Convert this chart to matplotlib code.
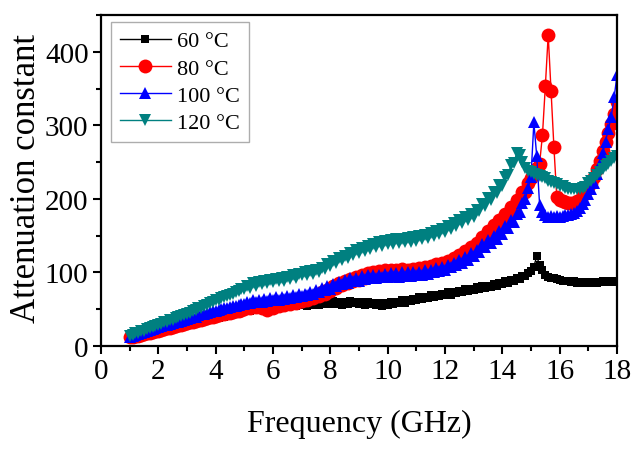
import numpy as np
import matplotlib
matplotlib.use("Agg")
import matplotlib.pyplot as plt
from matplotlib.ticker import MultipleLocator

plt.rcParams['font.family'] = ['Liberation Serif', 'DejaVu Serif']

# Frequency grid (GHz), 0.1 GHz step from 1 to 18
freq = np.round(np.arange(1.0, 18.001, 0.1), 2)

labels = ['60 °C', '80 °C', '100 °C', '120 °C']

att_60 = [10, 11, 12, 13, 14, 15, 16, 17, 18, 19,
          20, 20, 21, 22, 23, 24, 25, 26, 27, 28,
          29, 29, 30, 31, 32, 33, 34, 35, 36, 37,
          38, 38, 39, 40, 41, 42, 43, 44, 45, 46,
          47, 47, 48, 49, 50, 51, 52, 52, 53, 53,
          53, 56, 54, 57, 55, 58, 54, 58, 55, 59,
          56, 59, 55, 59, 56, 60, 56, 59, 57, 60,
          57, 61, 57, 60, 56, 60, 57, 61, 58, 60,
          57, 60, 56, 60, 57, 59, 56, 59, 55, 59,
          56, 60, 57, 60, 58, 62, 59, 63, 61, 64,
          62, 66, 64, 67, 65, 69, 66, 70, 68, 71,
          69, 73, 70, 74, 72, 75, 73, 77, 75, 78,
          76, 80, 77, 81, 79, 82, 80, 84, 82, 86,
          84, 88, 86, 90, 88, 92, 91, 95, 95, 99,
          102, 108, 122, 110, 104, 96, 94, 93, 92, 91,
          90, 89, 88, 88, 87, 88, 86, 87, 86, 87,
          87, 86, 87, 86, 87, 88, 87, 88, 88, 87,
          89]

att_80 = [12, 12, 13, 14, 15, 16, 17, 18, 19, 20,
          21, 22, 23, 24, 25, 26, 27, 28, 29, 30,
          31, 32, 33, 34, 35, 36, 37, 38, 39, 40,
          41, 42, 43, 44, 45, 45, 46, 47, 48, 49,
          50, 53, 52, 55, 53, 56, 52, 54, 49, 53,
          52, 56, 54, 58, 56, 60, 57, 62, 59, 63,
          61, 65, 62, 67, 65, 70, 68, 73, 71, 76,
          75, 81, 79, 85, 83, 89, 85, 91, 88, 94,
          90, 96, 93, 99, 95, 100, 96, 102, 97, 103,
          98, 104, 99, 103, 98, 105, 100, 104, 99, 105,
          100, 106, 101, 107, 103, 109, 105, 111, 107, 113,
          109, 116, 113, 120, 116, 124, 120, 129, 125, 134,
          130, 140, 137, 148, 145, 156, 153, 164, 161, 171,
          170, 180, 178, 189, 188, 198, 198, 209, 210, 222,
          228, 236, 242, 248, 287, 353, 423, 346, 270, 202,
          199, 197, 196, 194, 194, 195, 197, 199, 205, 210,
          216, 222, 230, 240, 252, 265, 278, 290, 302, 316,
          332]

att_100 = [12, 13, 15, 16, 17, 19, 20, 22, 23, 25,
           26, 27, 28, 29, 30, 31, 32, 33, 34, 35,
           37, 38, 39, 40, 42, 43, 44, 45, 46, 47,
           48, 49, 50, 51, 52, 53, 54, 55, 56, 57,
           57, 60, 59, 62, 60, 63, 60, 64, 61, 65,
           62, 66, 63, 67, 64, 68, 65, 69, 66, 71,
           68, 71, 69, 73, 71, 76, 73, 79, 76, 82,
           78, 84, 81, 87, 84, 90, 86, 92, 88, 93,
           89, 95, 91, 96, 92, 97, 93, 97, 94, 98,
           94, 99, 95, 99, 94, 100, 95, 100, 95, 100,
           96, 101, 97, 103, 98, 104, 100, 106, 102, 108,
           104, 110, 107, 113, 110, 117, 113, 121, 117, 126,
           123, 131, 128, 138, 134, 144, 140, 150, 146, 156,
           152, 163, 160, 171, 168, 180, 182, 194, 200, 215,
           230, 304, 258, 192, 182, 178, 176, 177, 176, 177,
           176, 177, 178, 178, 180, 181, 183, 187, 193, 199,
           206, 213, 222, 234, 248, 262, 278, 295, 312, 338,
           368]

att_120 = [14, 15, 17, 18, 20, 21, 23, 24, 26, 27,
           29, 30, 32, 33, 35, 36, 38, 39, 41, 42,
           44, 45, 47, 49, 51, 52, 54, 56, 58, 60,
           62, 63, 65, 66, 68, 69, 71, 73, 75, 77,
           78, 82, 79, 85, 82, 87, 84, 89, 85, 90,
           87, 91, 88, 93, 89, 94, 91, 96, 93, 98,
           96, 100, 96, 102, 98, 104, 100, 106, 105, 111,
           109, 115, 113, 120, 117, 123, 120, 127, 124, 131,
           127, 133, 129, 136, 132, 139, 134, 141, 136, 143,
           138, 144, 139, 145, 140, 146, 141, 147, 142, 148,
           143, 149, 145, 151, 147, 153, 149, 156, 152, 159,
           155, 163, 159, 167, 163, 171, 167, 175, 171, 179,
           176, 185, 183, 193, 191, 201, 199, 209, 208, 219,
           218, 230, 232, 246, 249, 262, 260, 250, 242, 238,
           236, 234, 233, 231, 230, 228, 225, 223, 222, 220,
           218, 217, 215, 214, 213, 213, 214, 214, 215, 216,
           221, 225, 229, 233, 237, 241, 245, 248, 251, 255,
           258]

series = [att_60, att_80, att_100, att_120]
colors = ['#000000', '#FF0000', '#0000FF', '#008080']
markers = ['s', 'o', '^', 'v']
msizes = [6, 10, 8, 8]

fig = plt.figure(figsize=(6.34, 4.56), dpi=100)
ax = fig.add_axes([101/634, 1 - 347/456, 516/634, 331/456])

for vals, c, m, ms, lab in zip(series, colors, markers, msizes, labels):
    ax.plot(freq, vals, color=c, marker=m, markersize=ms, linewidth=1.0,
            markeredgewidth=0, label=lab)

ax.set_xlim(0, 18)
ax.set_ylim(0, 450)
ax.xaxis.set_major_locator(MultipleLocator(2))
ax.xaxis.set_minor_locator(MultipleLocator(1))
ax.yaxis.set_minor_locator(MultipleLocator(50))
ax.set_yticks([0, 100, 200, 300, 400])
ax.tick_params(which='major', direction='out', length=6, width=1.5,
               labelsize=21, pad=3)
ax.tick_params(which='minor', direction='out', length=3.5, width=1.5)
for s in ax.spines.values():
    s.set_linewidth(1.6)

ax.set_xlabel('Frequency (GHz)', fontsize=23)
ax.set_ylabel('Attenuation constant', fontsize=25)
ax.xaxis.set_label_coords(0.5, -0.19)
ax.yaxis.set_label_coords(-0.112, 0.508)

leg = ax.legend(loc='upper left', bbox_to_anchor=(0.019, 0.979),
                borderaxespad=0, fontsize=16, frameon=True, fancybox=False,
                edgecolor='#999999', handlelength=2.3, handletextpad=0.3,
                labelspacing=0.3, borderpad=0.4)
leg.get_frame().set_linewidth(1.0)

fig.savefig('out.png', dpi=100)
